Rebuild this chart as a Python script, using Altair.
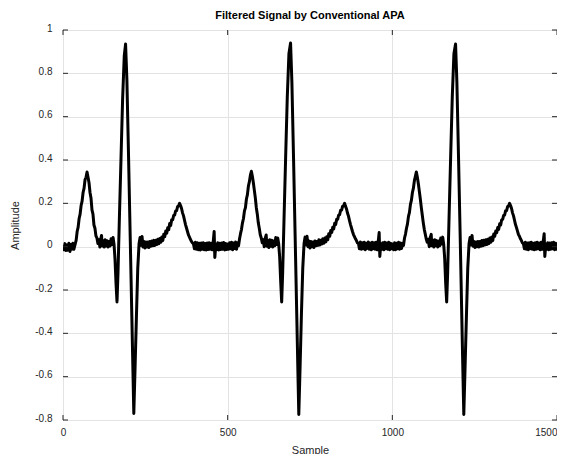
import altair as alt
import pandas as pd

# ---- data (sample index, amplitude) ----
beat1_sample = [0, 3, 6, 9, 12, 15, 18, 21, 24, 27, 30, 33, 36,
                40, 43, 46, 49, 52, 55, 58, 61, 64, 67, 70, 73, 76, 79, 82, 85, 88, 91, 94, 97, 100, 103, 106,
                109, 112, 115, 117, 119, 122, 125, 128, 131, 134, 137, 140, 143, 146, 149, 152,
                155, 158, 161, 164, 167, 171, 176, 181, 186, 190, 194, 199, 204, 209, 213, 215, 219, 223, 227, 231,
                234, 237, 240, 243, 246, 249, 252, 255, 258, 261, 264, 267, 270, 273, 276, 279, 282, 285, 288, 291, 294, 297, 300, 303,
                306, 309, 312, 315, 318, 321, 324, 327, 330, 333, 336, 339, 342, 345, 348, 351, 354, 357, 360, 363, 366, 369, 372, 375, 378, 381, 384, 387, 390, 393,
                396, 399, 402, 405, 408, 411, 414, 417, 420, 423, 426, 429, 432, 435, 438, 441, 444, 447, 450, 453, 456, 459, 461, 464, 467, 470, 473, 476, 479, 482, 485, 488, 491, 494, 497, 500]
beat1_amp = [0.005, -0.014, 0.014, -0.018, 0.008, -0.016, 0.016, -0.022, 0.01, -0.012, 0.016, -0.012, 0.006,
             0.03, 0.07, 0.09, 0.13, 0.15, 0.19, 0.21, 0.25, 0.27, 0.31, 0.32, 0.345, 0.32, 0.295, 0.25, 0.225, 0.17, 0.15, 0.1, 0.085, 0.05, 0.04, 0.015,
             0.032, -0.002, 0.037, 0.052, 0.003, 0.027, -0.002, 0.032, 0.003, 0.027, -0.002, 0.024, 0.003, 0.037, 0.01, 0.042,
             0.01, -0.06, -0.17, -0.255, -0.12, 0.12, 0.4, 0.68, 0.88, 0.935, 0.77, 0.42, 0.05, -0.32, -0.62, -0.77, -0.55, -0.32, -0.1, 0.015,
             0.042, 0.006, 0.047, -0.002, 0.024, -0.006, 0.022, -0.002, 0.022, -0.004, 0.024, 0.002, 0.026, 0.004, 0.029, 0.006, 0.03, 0.01, 0.034, 0.013, 0.038, 0.02, 0.044, 0.028,
             0.057, 0.046, 0.072, 0.062, 0.087, 0.078, 0.107, 0.098, 0.124, 0.124, 0.144, 0.146, 0.165, 0.166, 0.185, 0.188, 0.2, 0.19, 0.176, 0.156, 0.142, 0.122, 0.102, 0.086, 0.07, 0.054, 0.044, 0.034, 0.024, 0.018,
             0.014, -0.01, 0.02, -0.012, 0.018, -0.014, 0.016, -0.015, 0.017, -0.012, 0.018, -0.014, 0.015, -0.015, 0.017, -0.013, 0.018, -0.012, 0.016, -0.014, 0.02, 0.07, -0.05, 0.012, -0.014, 0.018, -0.015, 0.016, -0.013, 0.017, -0.012, 0.019, -0.015, 0.015, -0.013, 0.012]

beat2_sample = [503, 506, 509, 512, 515, 518, 521, 524, 527, 530, 533,
                536, 539, 542, 545, 548, 551, 554, 557, 560, 563, 566, 569, 572, 575, 578, 581, 584, 587, 590, 593, 596, 599, 602, 605,
                608, 611, 614, 617, 619, 622, 625, 628, 631, 634, 637, 640, 643, 646, 649, 652,
                655, 658, 661, 664, 667, 671, 676, 681, 686, 691, 695, 700, 705, 710, 714, 716, 720, 724, 728, 732,
                735, 738, 741, 744, 747, 750, 753, 756, 759, 762, 765, 768, 771, 774, 777, 780, 783, 786, 789, 792, 795, 798, 801, 804,
                807, 810, 813, 816, 819, 822, 825, 828, 831, 834, 837, 840, 843, 846, 849, 852, 855, 858, 861, 864, 867, 870, 873, 876, 879, 882, 885, 888, 891, 894,
                897, 900, 903, 906, 909, 912, 915, 918, 921, 924, 927, 930, 933, 936, 939, 942, 945, 948, 951, 954, 957, 960, 962, 965, 968, 971, 974, 977, 980, 983, 986, 989, 992, 995, 998, 1001]
beat2_amp = [-0.012, 0.018, -0.01, 0.02, -0.014, 0.017, -0.008, 0.022, -0.012, 0.018, 0.004,
             0.035, 0.06, 0.08, 0.11, 0.13, 0.165, 0.18, 0.22, 0.24, 0.28, 0.3, 0.33, 0.348, 0.325, 0.295, 0.26, 0.225, 0.18, 0.15, 0.11, 0.085, 0.055, 0.04, 0.018,
             0.032, 0.0, 0.038, 0.054, 0.002, 0.028, -0.004, 0.032, 0.002, 0.03, -0.002, 0.026, 0.004, 0.042, 0.01, 0.04,
             0.012, -0.05, -0.16, -0.255, -0.12, 0.12, 0.41, 0.69, 0.89, 0.94, 0.76, 0.41, 0.04, -0.33, -0.63, -0.775, -0.55, -0.31, -0.1, 0.015,
             0.044, 0.008, 0.048, 0.0, 0.026, -0.006, 0.024, 0.0, 0.022, -0.004, 0.026, 0.004, 0.024, 0.006, 0.032, 0.008, 0.03, 0.012, 0.036, 0.016, 0.04, 0.022, 0.046, 0.032,
             0.06, 0.048, 0.074, 0.066, 0.09, 0.082, 0.108, 0.102, 0.126, 0.126, 0.146, 0.148, 0.168, 0.168, 0.187, 0.188, 0.2, 0.186, 0.174, 0.154, 0.14, 0.12, 0.102, 0.086, 0.07, 0.056, 0.046, 0.036, 0.028, 0.018,
             0.016, -0.01, 0.022, -0.012, 0.018, -0.01, 0.02, -0.014, 0.016, -0.008, 0.022, -0.012, 0.017, -0.014, 0.02, -0.01, 0.018, -0.012, 0.02, -0.014, 0.022, 0.065, -0.045, 0.014, -0.012, 0.018, -0.014, 0.02, -0.01, 0.017, -0.012, 0.02, -0.014, 0.016, -0.01, 0.012]

beat3_sample = [1004, 1007, 1010, 1013, 1016, 1019, 1022, 1025, 1028, 1031, 1034,
                1037, 1040, 1043, 1046, 1049, 1052, 1055, 1058, 1061, 1064, 1067, 1070, 1073, 1076, 1079, 1082, 1085, 1088, 1091, 1094, 1097, 1100, 1103, 1106,
                1109, 1112, 1115, 1118, 1120, 1123, 1126, 1129, 1132, 1135, 1138, 1141, 1144, 1147, 1150, 1153,
                1156, 1159, 1162, 1165, 1168, 1172, 1177, 1182, 1187, 1192, 1196, 1201, 1206, 1211, 1215, 1217, 1221, 1225, 1229, 1233,
                1236, 1239, 1242, 1245, 1248, 1251, 1254, 1257, 1260, 1263, 1266, 1269, 1272, 1275, 1278, 1281, 1284, 1287, 1290, 1293, 1296, 1299, 1302, 1305,
                1308, 1311, 1314, 1317, 1320, 1323, 1326, 1329, 1332, 1335, 1338, 1341, 1344, 1347, 1350, 1353, 1356, 1359, 1362, 1365, 1368, 1371, 1374, 1377, 1380, 1383, 1386, 1389, 1392, 1395,
                1398, 1401, 1404, 1407, 1410, 1413, 1416, 1419, 1422, 1425, 1428, 1431, 1434, 1437, 1440, 1443, 1446, 1449, 1452, 1455, 1458, 1461, 1463, 1466, 1469, 1472, 1475, 1478, 1481, 1484, 1487, 1490, 1493, 1496, 1498, 1500]
beat3_amp = [-0.014, 0.018, -0.014, 0.016, -0.01, 0.02, -0.012, 0.017, -0.008, 0.016, 0.006,
             0.04, 0.058, 0.085, 0.105, 0.14, 0.158, 0.195, 0.215, 0.25, 0.27, 0.305, 0.325, 0.345, 0.32, 0.29, 0.255, 0.22, 0.18, 0.145, 0.11, 0.08, 0.058, 0.035, 0.02,
             0.034, 0.0, 0.042, 0.057, 0.004, 0.03, -0.002, 0.032, 0.004, 0.028, -0.002, 0.026, 0.004, 0.04, 0.012, 0.044,
             0.01, -0.055, -0.17, -0.255, -0.12, 0.12, 0.41, 0.69, 0.89, 0.935, 0.76, 0.41, 0.05, -0.33, -0.63, -0.775, -0.55, -0.32, -0.1, 0.015,
             0.042, 0.008, 0.052, 0.002, 0.024, -0.004, 0.022, 0.0, 0.024, -0.002, 0.024, 0.002, 0.028, 0.004, 0.03, 0.008, 0.032, 0.01, 0.034, 0.014, 0.04, 0.02, 0.044, 0.028,
             0.058, 0.048, 0.072, 0.064, 0.088, 0.08, 0.106, 0.1, 0.124, 0.126, 0.144, 0.146, 0.166, 0.166, 0.185, 0.188, 0.2, 0.19, 0.176, 0.156, 0.142, 0.122, 0.102, 0.088, 0.072, 0.056, 0.048, 0.036, 0.028, 0.018,
             0.014, -0.01, 0.02, -0.012, 0.017, -0.014, 0.018, -0.01, 0.02, -0.012, 0.016, -0.014, 0.018, -0.012, 0.02, -0.01, 0.017, -0.014, 0.02, -0.012, 0.022, 0.06, -0.045, 0.012, -0.012, 0.018, -0.014, 0.017, -0.012, 0.018, -0.01, 0.02, -0.014, 0.016, -0.012, 0.008]

x_ticks = [0, 500, 1000, 1500]
y_ticks = [-0.8, -0.6, -0.4, -0.2, 0, 0.2, 0.4, 0.6, 0.8, 1]

W, H = 494, 390
INK = "#262626"

signal = pd.DataFrame({
    "Sample": beat1_sample + beat2_sample + beat3_sample,
    "Amplitude": beat1_amp + beat2_amp + beat3_amp,
})
xt = pd.DataFrame({"v": x_ticks})
yt = pd.DataFrame({"v": y_ticks})

xscale = alt.Scale(domain=[0, 1500], nice=False, zero=False)
yscale = alt.Scale(domain=[-0.8, 1], nice=False, zero=False)

line = alt.Chart(signal).mark_line(
    color="black", strokeWidth=3, strokeJoin="round", clip=True
).encode(
    x=alt.X("Sample:Q", scale=xscale, title="Sample",
            axis=alt.Axis(values=x_ticks, labelExpr="'' + datum.value", grid=True,
                          ticks=False, tickSize=0, domain=False, labelPadding=7,
                          labelFlush=False,
                          labelAlign={"condition": {"test": "datum.value == 1500", "value": "right"},
                                      "value": "center"},
                          titlePadding=7)),
    y=alt.Y("Amplitude:Q", scale=yscale, title="Amplitude",
            axis=alt.Axis(values=y_ticks, labelExpr="'' + datum.value", grid=True,
                          ticks=False, tickSize=0, domain=False, labelPadding=11,
                          labelFlush=False, labelOffset=-2, titlePadding=14)),
)

tick_bottom = alt.Chart(xt).mark_rule(color=INK, strokeWidth=1).encode(
    x=alt.X("v:Q", scale=xscale), y=alt.value(H), y2=alt.value(H - 5))
tick_top = alt.Chart(xt).mark_rule(color=INK, strokeWidth=1).encode(
    x=alt.X("v:Q", scale=xscale), y=alt.value(0), y2=alt.value(5))
tick_left = alt.Chart(yt).mark_rule(color=INK, strokeWidth=1).encode(
    y=alt.Y("v:Q", scale=yscale), x=alt.value(0), x2=alt.value(5))
tick_right = alt.Chart(yt).mark_rule(color=INK, strokeWidth=1).encode(
    y=alt.Y("v:Q", scale=yscale), x=alt.value(W), x2=alt.value(W - 5))

chart = alt.layer(line, tick_bottom, tick_top, tick_left, tick_right).properties(
    width=W, height=H,
    title=alt.TitleParams("Filtered Signal by Conventional APA", fontSize=11,
                          fontWeight="bold", color="black", offset=2,
                          anchor="middle"),
    autosize=alt.AutoSizeParams(type="none"),
    padding={"left": 55, "top": 22, "right": 0, "bottom": 34},
).configure(
    font="Liberation Sans",
).configure_view(
    stroke=INK, strokeWidth=1,
).configure_axis(
    labelFont="Liberation Sans", labelFontSize=10, labelColor=INK,
    titleFont="Liberation Sans", titleFontSize=11, titleColor=INK,
    titleFontWeight="normal", gridColor="#e3e3e3", gridWidth=1,
)

chart.save("out.html", embed_options={"renderer": "svg", "actions": False})
